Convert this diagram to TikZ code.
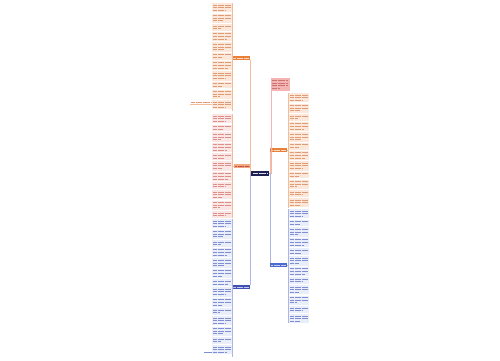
\documentclass[tikz,border=0pt]{standalone}
\usetikzlibrary{calc}
\definecolor{navy}{HTML}{1E2152}
\definecolor{org}{HTML}{E8803A}
\definecolor{orglight}{HTML}{F2A77F}
\definecolor{orgline}{HTML}{F3BC98}
\definecolor{orgfill}{HTML}{FCE8DA}
\definecolor{orgtext}{HTML}{E09A74}
\definecolor{pinkfill}{HTML}{FBE6E6}
\definecolor{pinktext}{HTML}{DE8E88}
\definecolor{blu}{HTML}{3F51B5}
\definecolor{blunode}{HTML}{4B6BD0}
\definecolor{bluline}{HTML}{AEB4E4}
\definecolor{blufill}{HTML}{EAEDFA}
\definecolor{blutext}{HTML}{7F8DD3}
\definecolor{redbox}{HTML}{F4B4B4}
\definecolor{redtext}{HTML}{C0504D}
\tikzset{
  txt/.style={line width=1pt, dash pattern=on 0.9pt off 0.25pt},
  con/.style={line width=0.5pt},
  branch/.style={inner sep=0pt, minimum width=17pt, minimum height=3.5pt},
}
\newcommand\leafcol[6]{%
  \xdef\cury{#3}%
  \foreach \n [count=\j] in {#4}{%
    \pgfmathsetmacro\hh{\n*2.6+1.4}%
    \fill[#6] (#1,\cury) rectangle (#2,\cury+\hh);
    \foreach \k in {1,...,\n}{%
      \pgfmathsetmacro\ly{\cury+0.7+(\k-0.5)*2.6}%
      \pgfmathsetmacro\fr{0.35+0.5*mod(\j*37,10)/10}%
      \pgfmathsetmacro\xe{\k==\n ? #1+1+(#2-#1-2)*\fr : #2-1}%
      \draw[txt,#5] (#1+1,\ly) -- (\xe,\ly);
    }%
    \pgfmathsetmacro\ny{\cury+\hh+1.3}%
    \xdef\cury{\ny}%
  }%
}
\begin{document}
\begin{tikzpicture}[x=1pt,y=-1pt]
\useasboundingbox[fill=white] (0,0) rectangle (500,360);

% leaf columns
\leafcol{212}{232}{3}{3,3,2,3,3,2,3,3,2,3,3}{orgtext}{orgfill}
\leafcol{212}{232}{114}{3,2,3,3,2,3,3,2,3,3,2}{pinktext}{pinkfill}
\leafcol{212}{232}{219}{3,3,2,3,3,3,2,3,3,2,3,3,2,3}{blutext}{blufill}
\leafcol{289}{309}{93}{3,3,2,3,3,2,3,3,2,3,2,3}{orgtext}{orgfill}
\leafcol{289}{309}{209}{3,2,3,3,2,3,3,2,3,3,2,3}{blutext}{blufill}

% column spines
\coordinate (L1t) at (232.5,3);   \coordinate (L1b) at (232.5,111);
\coordinate (L2t) at (232.5,114); \coordinate (L2b) at (232.5,218);
\coordinate (L3t) at (232.5,219); \coordinate (L3b) at (232.5,357);
\coordinate (R2t) at (288.5,93);  \coordinate (R2b) at (288.5,208);
\coordinate (R3t) at (288.5,209); \coordinate (R3b) at (288.5,323);
\draw[con,orgline] (L1t) -- (L1b);
\draw[con,orgline] (L2t) -- (L2b);
\draw[con,bluline] (L3t) -- (L3b);
\draw[con,orgline] (R2t) -- (R2b);
\draw[con,bluline] (R3t) -- (R3b);

% nodes
\node[inner sep=0pt, minimum width=18pt, minimum height=4.5pt, fill=navy] (C) at (260,173.5) {};
\node[branch, fill=org] (L1) at (241.5,58) {};
\node[branch, fill=orglight, minimum width=16pt] (L2) at (242,166) {};
\node[branch, fill=blu] (L3) at (241.5,287) {};
\node[inner sep=0pt, minimum width=19pt, minimum height=13pt, fill=redbox] (R1) at (280.5,84.5) {};
\node[branch, fill=org] (R2) at (278.5,150) {};
\node[branch, fill=blunode] (R3) at (278.5,265) {};

% node text strokes
\draw[txt,white!85!navy,line width=1pt] ($(C.west)+(2,0)$) -- ($(C.east)-(2,0)$);
\draw[txt,white!70!org,line width=0.8pt] ($(L1.west)+(1.5,0)$) -- ($(L1.east)-(1.5,0)$);
\draw[txt,redtext,line width=0.8pt] ($(L2.west)+(1.5,0)$) -- ($(L2.east)-(1.5,0)$);
\draw[txt,white!70!blu,line width=0.8pt] ($(L3.west)+(1.5,0)$) -- ($(L3.east)-(1.5,0)$);
\draw[txt,white!70!org,line width=0.8pt] ($(R2.west)+(1.5,0)$) -- ($(R2.east)-(1.5,0)$);
\draw[txt,white!70!blu,line width=0.8pt] ($(R3.west)+(1.5,0)$) -- ($(R3.east)-(1.5,0)$);
\foreach \k/\e in {1/17,2/17,3/17,4/9}{
  \draw[txt,redtext!80!white,line width=0.9pt] ($(R1.north west)+(1,\k*2.6)$) -- ($(R1.north west)+(\e,\k*2.6)$);
}

% connectors from centre
\draw[con,orgline] (C.west) -| (L1.south east);
\draw[con,orgline] (C.west) -| (L2.south east);
\draw[con,bluline] (C.west) -| (L3.north east);
\draw[con,redbox] (C.east) -| (R1.south west);
\draw[con,orgline] (C.east) -| (R2.south west);
\draw[con,bluline] (C.east) -| (R3.north west);
\draw[con,orgline] (L1.west) -- (L1.west -| L1t);
\draw[con,orgline] (L2.west) -- (L2.west -| L2t);
\draw[con,bluline] (L3.west) -- (L3.west -| L3t);
\draw[con,orgline] (R2.east) -- (R2.east -| R2t);
\draw[con,bluline] (R3.east) -- (R3.east -| R3t);

% side notes
\coordinate (N1) at (212,104.5);
\draw[txt,orgtext,line width=0.8pt] (191,102) -- (211,102);
\draw[con,orgline,line width=0.4pt] (190,104.5) -- (N1);
\coordinate (N2) at (212,352.5);
\draw[con,blutext,line width=0.5pt] (204,352.5) -- (N2);
\end{tikzpicture}
\end{document}
